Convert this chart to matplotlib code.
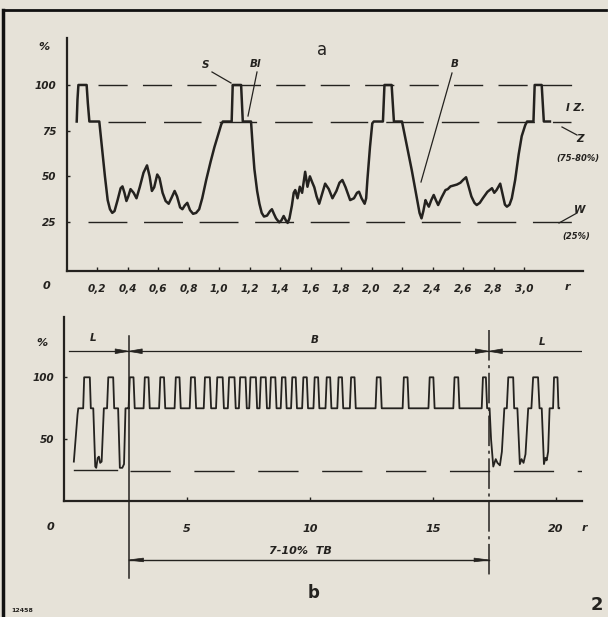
import matplotlib
matplotlib.use('Agg')
import matplotlib.pyplot as plt
from matplotlib.lines import Line2D
from matplotlib.patches import Polygon

# ---------------- data: panel a ----------------
a_t = [0.067, 0.072, 0.078, 0.132, 0.140, 0.150, 0.215,
       0.232, 0.252, 0.270, 0.285, 0.300, 0.315, 0.335, 0.355, 0.367, 0.380, 0.393,
       0.405, 0.420, 0.440, 0.459, 0.480, 0.505, 0.528, 0.545, 0.560, 0.575, 0.595,
       0.610, 0.630, 0.650, 0.670, 0.690, 0.709, 0.725, 0.745, 0.760, 0.775, 0.792,
       0.810, 0.830, 0.850, 0.870, 0.890, 0.916, 0.945, 0.970, 0.995, 1.015, 1.025,
       1.083, 1.090, 1.145, 1.156, 1.210,
       1.222, 1.232, 1.250, 1.265, 1.280, 1.295, 1.315, 1.335, 1.347, 1.360, 1.374,
       1.395, 1.410, 1.424, 1.438, 1.450, 1.462, 1.478, 1.490, 1.500, 1.515, 1.530,
       1.545, 1.565, 1.580, 1.596, 1.610, 1.625, 1.640, 1.657, 1.675, 1.696, 1.720,
       1.744, 1.770, 1.790, 1.809, 1.830, 1.860, 1.885, 1.905, 1.918, 1.935, 1.955,
       1.965, 1.973, 1.990, 2.005, 2.015,
       2.075, 2.085, 2.132, 2.147, 2.200,
       2.264, 2.315, 2.328, 2.340, 2.354, 2.365, 2.376, 2.392, 2.408, 2.422, 2.437,
       2.460, 2.485, 2.500, 2.518, 2.540, 2.560, 2.583, 2.600, 2.620, 2.635, 2.655,
       2.675, 2.690, 2.710, 2.730, 2.760, 2.790, 2.805, 2.820, 2.844, 2.860, 2.875,
       2.888, 2.905, 2.920, 2.942, 2.965, 2.985, 3.008, 3.020,
       3.062, 3.070, 3.116, 3.130, 3.170]
a_pct = [80, 92, 100, 100, 90, 80, 80,
         66, 50, 37, 32, 30, 31, 37, 43.5, 44.5, 41, 36.5,
         39, 43, 41, 38, 44, 52, 56, 50, 42, 44, 51,
         49, 41, 36.5, 35, 38.5, 42, 39, 33, 32, 34, 35.5,
         31.5, 29.5, 30, 32, 38, 48, 58, 66, 73, 78.5, 80,
         80, 100, 100, 80, 80,
         65, 54, 42, 35, 30, 28, 28.5, 31, 32, 29.5, 27,
         24.8, 26, 28.3, 26, 24.5, 27, 34, 41, 42.5, 38, 44.3,
         41, 52.5, 44.3, 50, 47, 44, 39, 35, 40, 46, 43,
         38, 42, 46.5, 48, 44, 37, 38, 41, 41.6, 38, 35,
         38, 48, 66, 79, 80,
         80, 100, 100, 80, 80,
         53.4, 30, 27, 31, 37, 35, 33.4, 37, 39.8, 37, 34.3,
         38.5, 42.5, 43, 44.5, 45, 45.5, 46.5, 48, 49.5, 45, 39,
         35.5, 34.3, 35.5, 38, 41.5, 43.5, 41, 42.5, 46, 40, 34.5,
         33.4, 34.5, 38, 48, 62, 72, 78, 80,
         80, 100, 100, 80, 80]
a_levels = [100, 80, 25]
a_level_start = [0.207, 0.272, 0.140]
a_level_end = [3.387, 3.31, 3.38]
a_xticks = [0.2, 0.4, 0.6, 0.8, 1.0, 1.2, 1.4, 1.6, 1.8, 2.0, 2.2, 2.4, 2.6, 2.8, 3.0]
a_xticklabels = ['0,2', '0,4', '0,6', '0,8', '1,0', '1,2', '1,4', '1,6', '1,8',
                 '2,0', '2,2', '2,4', '2,6', '2,8', '3,0']
a_yticks = [25, 50, 75, 100]
a_yticklabels = ['25', '50', '75', '100']

# ---------------- data: panel b ----------------
bL1_t = [0.40, 0.55, 0.58, 0.78, 0.82, 1.05, 1.09, 1.19, 1.27, 1.31, 1.37, 1.42, 1.47,
         1.53, 1.62, 1.75, 1.80, 2.00, 2.04, 2.20, 2.27, 2.37, 2.44, 2.50, 2.63]
bL1_pct = [32, 70, 75, 75, 100, 100, 75, 75, 28, 27, 35, 36, 31,
           32, 75, 75, 100, 100, 75, 75, 27, 27, 30, 75, 75]
b_pulse_centers = [2.75, 3.36, 3.99, 4.62, 5.24, 5.83, 6.34, 6.82, 7.27, 7.69, 8.10, 8.50,
                   8.93, 9.35, 9.80, 10.26, 10.75, 11.23, 11.74, 12.79, 13.89, 14.94, 15.95, 17.09]
b_pulse_tops = [0.15, 0.15, 0.15, 0.15, 0.16, 0.20, 0.22, 0.22, 0.22, 0.22, 0.20, 0.18,
                0.14, 0.14, 0.14, 0.14, 0.14, 0.14, 0.14, 0.15, 0.15, 0.15, 0.15, 0.12]
b_low, b_high = 75, 100
bL2_t = [17.30, 17.36, 17.45, 17.55, 17.62, 17.72, 17.80, 17.90, 18.00, 18.06, 18.26, 18.30,
         18.43, 18.53, 18.60, 18.68, 18.76, 18.87, 19.00, 19.07, 19.27, 19.33, 19.42, 19.51,
         19.57, 19.62, 19.68, 19.74, 19.88, 19.92, 20.06, 20.10, 20.13]
bL2_pct = [75, 50, 28, 34, 31, 29, 40, 75, 75, 100, 100, 75,
           75, 30, 34, 31, 38, 75, 75, 100, 100, 75, 75, 30,
           35, 33, 40, 75, 75, 100, 100, 75, 75]
b_xticks = [5, 10, 15, 20]
b_xticklabels = ['5', '10', '15', '20']
b_yticks = [50, 100]
b_yticklabels = ['50', '100']
b_boundaries = [2.63, 17.27]
b_dim_level = 121
b_w_level = 25

# ---------------- styling ----------------
W, H = 608, 617
BG = '#e6e2d8'
INK = '#24221f'
F = dict(family='DejaVu Sans', style='italic', weight='bold', color=INK)

fig = plt.figure(figsize=(W / 100, H / 100), dpi=100, facecolor=BG)


def px_axes(x0, y0, x1, y1):
    ax = fig.add_axes([x0 / W, 1 - y1 / H, (x1 - x0) / W, (y1 - y0) / H])
    ax.set_facecolor('none')
    for s in ['top', 'right']:
        ax.spines[s].set_visible(False)
    for s in ['left', 'bottom']:
        ax.spines[s].set_linewidth(1.6)
        ax.spines[s].set_color(INK)
    return ax


def ftext(x, y, s, size=7.5, **kw):
    d = dict(F)
    d.update(kw)
    fig.text(x / W, 1 - y / H, s, ha=d.pop('ha', 'center'), va=d.pop('va', 'center'),
             fontsize=size, **d)


def fline(xs, ys, **kw):
    fig.add_artist(Line2D([x / W for x in xs], [1 - y / H for y in ys],
                          transform=fig.transFigure, **kw))


# ---------------- panel a ----------------
axa = px_axes(66.5, 38, 583, 271)
axa.set_xlim(0, (583 - 66.5) / 152.5)
axa.set_ylim(-1.8, 125.7)
a_dashes = [(21, 11), (27, 13), (28, 12)]
for lev, s, e, d in zip(a_levels, a_level_start, a_level_end, a_dashes):
    axa.plot([s, e], [lev, lev], color=INK, lw=1.0, dashes=d, clip_on=False)
axa.plot(a_t, a_pct, color=INK, lw=1.8, solid_joinstyle='round')
axa.set_xticks(a_xticks)
axa.set_xticklabels(a_xticklabels, fontdict=dict(F, size=7.5))
axa.set_yticks(a_yticks)
axa.set_yticklabels(a_yticklabels, fontdict=dict(F, size=7.5))
axa.tick_params(axis='x', direction='in', length=3, width=1, color=INK, pad=9)
axa.tick_params(axis='y', direction='in', length=2.5, width=1, color=INK, pad=7)

ftext(44, 47, '%', 8)
ftext(46, 286, '0', 8)
ftext(567, 287, 'r', 8)
ftext(322, 50, 'a', 12, style='normal', weight='normal')
ftext(206, 65, 'S', 7.5)
fline([212, 231], [72, 83], color=INK, lw=0.9)
ftext(255, 64, 'Bl', 7.5)
fline([257, 248], [72, 116], color=INK, lw=0.9)
ftext(455, 64, 'B', 7.5)
fline([452, 421], [73, 182], color=INK, lw=0.9)
ftext(576, 108, 'I Z.', 7.5)
ftext(580, 139, 'Z', 7.5)
fline([562, 577], [127, 135], color=INK, lw=0.9)
ftext(578, 158, '(75-80%)', 6)
ftext(580, 210, 'W', 7.5)
fline([559, 577], [223, 213], color=INK, lw=0.9)
ftext(576, 237, '(25%)', 6)

# ---------------- panel b ----------------
axb = px_axes(64, 317, 582, 501.3)
axb.set_xlim(0, (582 - 64) / 24.6)
axb.set_ylim(0, (501.3 - 317) / 1.24)

b_t = list(bL1_t)
b_p = list(bL1_pct)
edge = 0.05
for c, w in zip(b_pulse_centers, b_pulse_tops):
    b_t += [c - w / 2 - edge, c - w / 2, c + w / 2, c + w / 2 + edge]
    b_p += [b_low, b_high, b_high, b_low]
b_t += bL2_t
b_p += bL2_pct
axb.plot(b_t, b_p, color=INK, lw=1.3, solid_joinstyle='round')

# reference lines
axb.plot([0.40, 2.15], [b_w_level, b_w_level], color=INK, lw=1.0)
axb.plot([2.70, 21.05], [b_w_level - 0.8, b_w_level - 0.8], color=INK, lw=1.0, dashes=(29, 17))
axb.plot([0.20, 21.0], [b_dim_level, b_dim_level], color=INK, lw=0.9)

# boundary lines
lb, rb = b_boundaries
axb.plot([lb, lb], [133.3, -61.9], color=INK, lw=1.1, clip_on=False)
axb.plot([rb, rb], [138.1, -61.9], color=INK, lw=1.1, dashes=(20, 3, 2, 3), clip_on=False)


def arrowhead(ax, tip_x, tip_y, dx, half_h, **kw):
    ax.add_patch(Polygon([[tip_x, tip_y], [tip_x + dx, tip_y + half_h],
                          [tip_x + dx, tip_y - half_h]], closed=True,
                         facecolor=INK, edgecolor=INK, lw=0.5, clip_on=False))


for bx in b_boundaries:
    arrowhead(axb, bx, b_dim_level, -0.55, 1.9)
    arrowhead(axb, bx, b_dim_level, 0.55, 1.9)

# TB dimension
tb_y = -47.3
axb.plot([lb, rb], [tb_y, tb_y], color=INK, lw=1.0, clip_on=False)
arrowhead(axb, lb, tb_y, 0.6, 1.5)
arrowhead(axb, rb, tb_y, -0.6, 1.5)

axb.set_xticks(b_xticks)
axb.set_xticklabels(b_xticklabels, fontdict=dict(F, size=8))
axb.set_yticks(b_yticks)
axb.set_yticklabels(b_yticklabels, fontdict=dict(F, size=7.5))
axb.tick_params(axis='x', direction='in', length=3, width=1, color=INK, pad=16)
axb.tick_params(axis='y', direction='in', length=2.5, width=1, color=INK, pad=7)

ftext(42, 343, '%', 8)
ftext(50, 527, '0', 8)
ftext(584, 528, 'r', 8)
ftext(93, 338, 'L', 7.5)
ftext(315, 340, 'B', 7.5)
ftext(542, 342, 'L', 7.5)
ftext(300, 551, '7-10%  TB', 8)
ftext(314, 593, 'b', 12, style='normal', weight='bold')
ftext(22, 610, '12458', 4.5, style='normal')
ftext(597, 605, '2', 13, style='normal', weight='bold')

# frame of the scanned page
fline([3, 3], [10, 617], color='#111111', lw=2.5)
fline([3, 606], [10, 10], color='#111111', lw=2.0)

fig.savefig('out.png', dpi=100, facecolor=BG)
